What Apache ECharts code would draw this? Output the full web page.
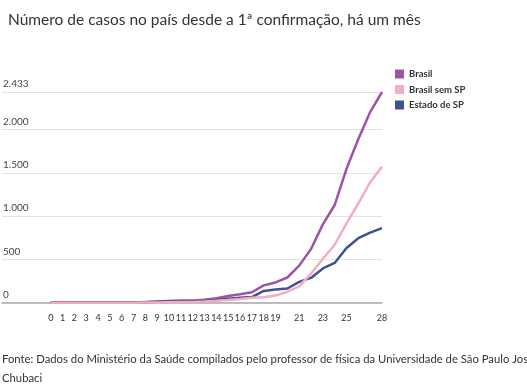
<!DOCTYPE html>
<html>
<head>
<meta charset="utf-8">
<script src="https://cdn.jsdelivr.net/npm/echarts@6/dist/echarts.min.js"></script>
<style>
html,body{margin:0;padding:0;background:#fff;}
#c{width:527px;height:385px;}
</style>
</head>
<body>
<div id="c"></div>
<script>
const days = [0,1,2,3,4,5,6,7,8,9,10,11,12,13,14,15,16,17,18,19,20,21,22,23,24,25,26,27,28];
const xTickLabels = [0,1,2,3,4,5,6,7,8,9,10,11,12,13,14,15,16,17,18,19,21,23,25,28];
const brasil = [1,1,1,2,2,2,2,3,8,13,19,25,25,34,52,77,98,121,200,234,291,428,621,904,1128,1546,1891,2201,2433];
const estadoSP = [1,1,1,2,2,2,2,3,6,10,13,16,16,19,30,46,56,65,136,152,164,240,286,396,459,631,745,810,862];
const brasilSemSP = [0,0,0,0,0,0,0,0,2,3,6,9,9,15,22,31,42,56,64,82,127,188,335,508,669,915,1146,1391,1571];
const yMax = 2433;

function fmt(v){
  return String(Math.round(v)).replace(/\B(?=(\d{3})+(?!\d))/g, '.');
}
function pairs(arr){ return days.map((d,i)=>[d,arr[i]]); }

const font = 'Lato, "Noto Sans", sans-serif';
const chart = echarts.init(document.getElementById('c'), null, {renderer:'canvas'});
chart.setOption({
  animation:false,
  textStyle:{fontFamily:font},
  title:{
    text:'Número de casos no país desde a 1ª confirmação, há um mês',
    left:3, top:7,
    textStyle:{fontSize:15.5, fontWeight:'normal', color:'#333', fontFamily:font}
  },
  legend:{
    orient:'vertical', left:390, top:64,
    icon:'rect', itemWidth:9, itemHeight:9, itemGap:5.5,
    data:['Brasil','Brasil sem SP','Estado de SP'],
    textStyle:{fontSize:9.5, fontWeight:'bold', color:'#333', fontFamily:font, lineHeight:10}
  },
  grid:{left:2, right:145, top:92, bottom:82.3, containLabel:false},
  xAxis:{
    type:'value', min:-4.12, max:28,
    axisLine:{show:true, lineStyle:{color:'#aaa', width:1.5}},
    axisTick:{show:false},
    splitLine:{show:false},
    axisLabel:{
      customValues:xTickLabels,
      margin:11, fontSize:9, color:'#333', fontFamily:font,
      formatter:v=>String(v)
    }
  },
  yAxis:{
    type:'value', min:0, max:yMax, interval:500,
    axisLine:{show:false}, axisTick:{show:false},
    splitLine:{show:true, lineStyle:{color:'#e3e3e3', width:1}},
    axisLabel:{
      inside:true, margin:1, verticalAlign:'bottom', padding:[0,0,3,0],
      fontSize:10, color:'#444', fontFamily:font,
      formatter:v=>fmt(v)
    }
  },
  series:[
    {name:'Brasil', type:'line', data:pairs(brasil), showSymbol:false, symbol:'none',
     lineStyle:{width:2.5, color:'#9c55a5'}, itemStyle:{color:'#9c55a5'}},
    {name:'Estado de SP', type:'line', data:pairs(estadoSP), showSymbol:false, symbol:'none',
     lineStyle:{width:2.5, color:'#3e5492'}, itemStyle:{color:'#3e5492'}},
    {name:'Brasil sem SP', type:'line', data:pairs(brasilSemSP), showSymbol:false, symbol:'none',
     lineStyle:{width:2.5, color:'#f4aebb'}, itemStyle:{color:'#f4aebb'}}
  ],
  graphic:[
    {type:'text', left:2, top:350, style:{
      text:'Fonte: Dados do Ministério da Saúde compilados pelo professor de física da Universidade de São Paulo José\nChubaci',
      font:'11.3px ' + font, fill:'#333', lineHeight:19
    }}
  ]
});
</script>
</body>
</html>
